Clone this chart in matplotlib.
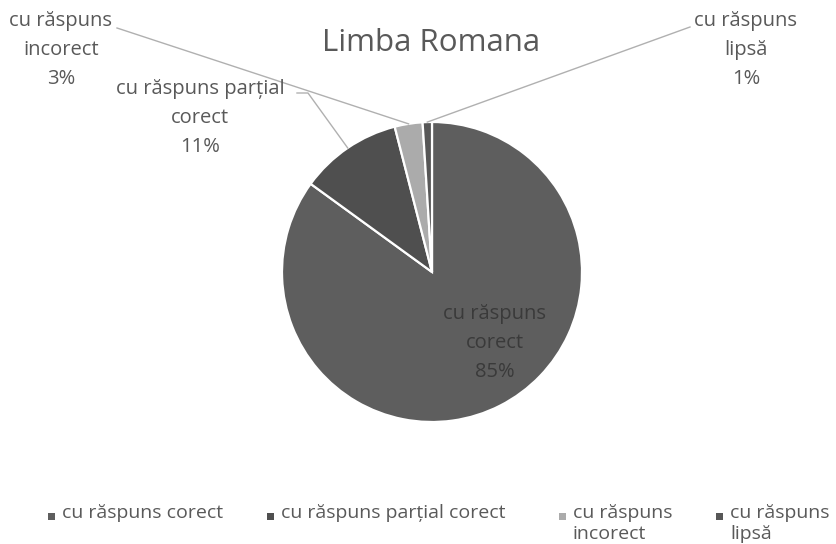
import numpy as np
import matplotlib
matplotlib.use("Agg")
import matplotlib.pyplot as plt
from matplotlib.patches import Rectangle

plt.rcParams['font.family'] = ['Open Sans', 'DejaVu Sans']

# date
categorii = ['cu răspuns corect', 'cu răspuns parțial corect', 'cu răspuns incorect', 'cu răspuns lipsă']
etichete_pie = ['cu răspuns\ncorect', 'cu răspuns parțial\ncorect', 'cu răspuns\nincorect', 'cu răspuns\nlipsă']
etichete_legenda = ['cu răspuns corect', 'cu răspuns parțial corect', 'cu răspuns\nincorect', 'cu răspuns\nlipsă']
procente = [85, 11, 3, 1]
culori = ['#5e5e5e', '#4f4f4f', '#ababab', '#575757']
titlu = 'Limba Romana'

W, H = 837, 544
TXT = '#595959'
LINIE = '#b0b0b0'

fig = plt.figure(figsize=(W / 100, H / 100), dpi=100)
ax = fig.add_axes([0, 0, 1, 1])

cx, cy, r = 432, H - 272, 150
wedges, _ = ax.pie(procente, colors=culori, startangle=90, counterclock=False,
                   center=(cx, cy), radius=r,
                   wedgeprops=dict(edgecolor='white', linewidth=1.6))
ax.set_xlim(0, W)
ax.set_ylim(0, H)
ax.set_aspect('auto')
ax.axis('off')


def punct_margine(w):
    # punctul de pe margine, la mijlocul felii
    a = np.deg2rad((w.theta1 + w.theta2) / 2)
    return cx + r * np.cos(a), cy + r * np.sin(a)


ax.text(431, H - 43, titlu, ha='center', va='center', fontsize=22.5, color=TXT)

fs = 14.5
# etichete (pozitii in pixeli, y de sus)
poz = [(495, 343), (200, 118), (61, 50), (746, 50)]
for i, (x, y) in enumerate(poz):
    txt = f'{etichete_pie[i]}\n{procente[i]}%'
    col = '#3a3a3a' if i == 0 else TXT
    ax.text(x, H - y, txt, ha='center', va='center', fontsize=fs, color=col,
            linespacing=1.58)

# linii de legatura
ex, ey = punct_margine(wedges[1])
ax.plot([297, 308, ex], [H - 93, H - 93, ey], color=LINIE, lw=1)
ex, ey = punct_margine(wedges[2])
ax.plot([117, ex], [H - 28, ey], color=LINIE, lw=1)
ex, ey = punct_margine(wedges[3])
ax.plot([690, ex], [H - 27, ey], color=LINIE, lw=1)

# legenda
leg_x = [52, 271, 563, 720]
for i, x in enumerate(leg_x):
    ax.add_patch(Rectangle((x - 3.5, H - 516 - 3.5), 7, 7, color=culori[i], lw=0))
    ax.text(x + 10, H - 504, etichete_legenda[i], ha='left', va='top', fontsize=14,
            color=TXT, linespacing=1.22)

fig.savefig('out.png', dpi=100)
